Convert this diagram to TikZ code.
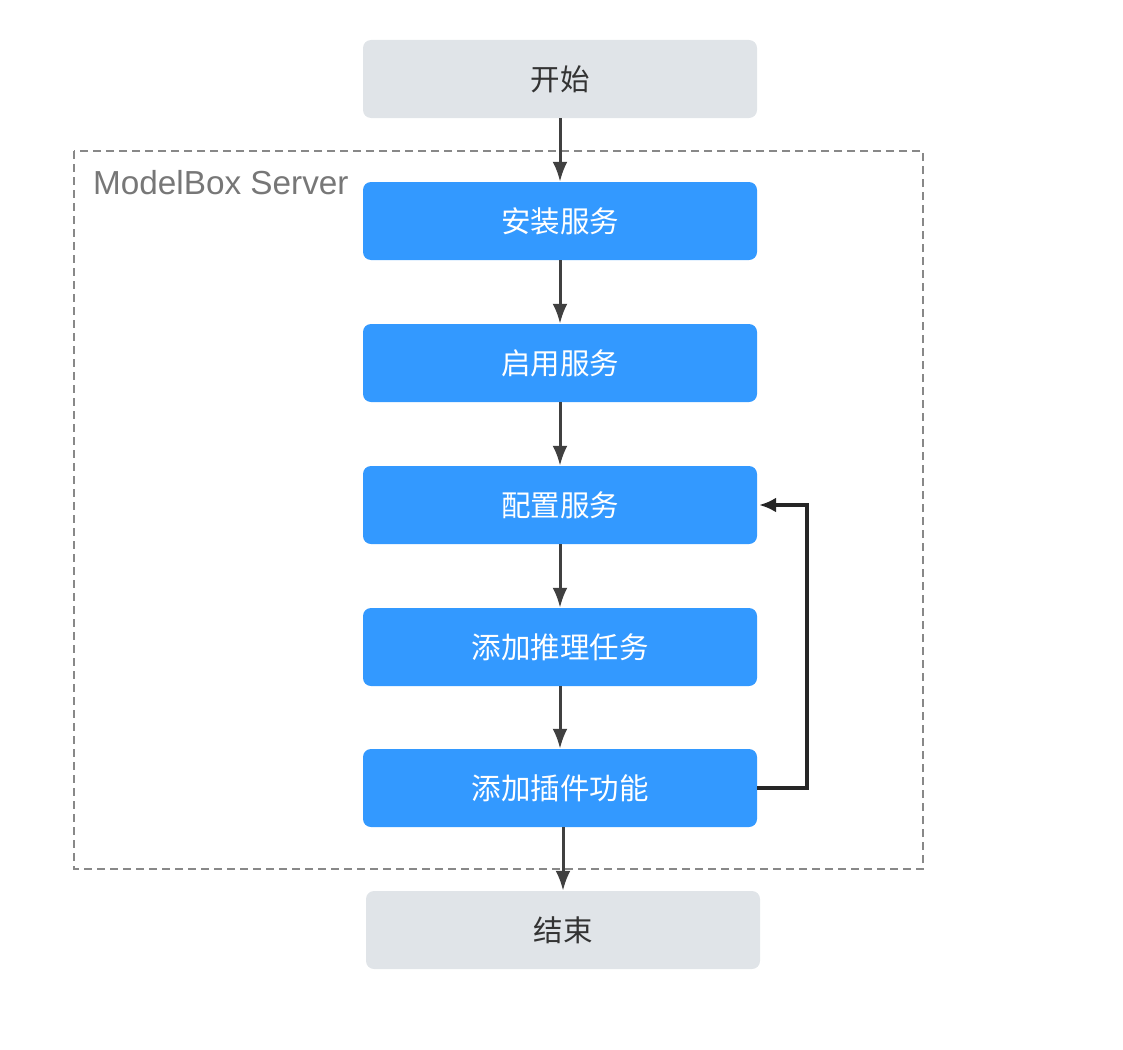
\documentclass[tikz,border=0pt]{standalone}
\usepackage{fontspec}
\setmainfont{Liberation Sans}
\newfontfamily\cjk{Noto Sans CJK SC}
\usetikzlibrary{arrows.meta}
\definecolor{boxblue}{HTML}{3399FF}
\definecolor{boxgray}{HTML}{E0E4E8}
\definecolor{txtdark}{HTML}{333333}
\definecolor{arrowgray}{HTML}{404040}
\definecolor{dashgray}{HTML}{888888}
\definecolor{labelgray}{HTML}{777777}
\tikzset{
  base/.style={rectangle, rounded corners=8pt, minimum width=394pt, minimum height=78pt, inner sep=0pt, font=\cjk\fontsize{29.5}{34}\selectfont},
  stepbox/.style={base, fill=boxblue, text=white},
  termbox/.style={base, fill=boxgray, text=txtdark},
  flow/.style={draw=arrowgray, line width=3pt, -{Latex[length=20pt,width=15pt]}},
  back/.style={draw=black!85, line width=3.2pt, -{Latex[length=17pt,width=15pt]}},
}
\begin{document}
\begin{tikzpicture}[x=1pt,y=-1pt]
\useasboundingbox (0,0) rectangle (1123,1049);
\draw[dashgray, line width=1.8pt, dash pattern=on 8pt off 5pt] (74,151) rectangle (923,869);
\node[anchor=west, text=labelgray, font=\fontsize{33.3}{38}\selectfont, inner sep=0pt] (lbl) at (93,183) {ModelBox Server};
\node[termbox] (start) at (560,79) {开始};
\node[stepbox] (s1) at (560,221) {安装服务};
\node[stepbox] (s2) at (560,363) {启用服务};
\node[stepbox] (s3) at (560,505) {配置服务};
\node[stepbox] (s4) at (560,647) {添加推理任务};
\node[stepbox] (s5) at (560,788) {添加插件功能};
\node[termbox] (end) at (563,930) {结束};
\coordinate (r) at (807,0);
\draw[flow] (start) -- (s1);
\draw[flow] (s1) -- (s2);
\draw[flow] (s2) -- (s3);
\draw[flow] (s3) -- (s4);
\draw[flow] (s4) -- (s5);
\draw[flow] (s5.south -| end.north) -- (end.north);
\draw[back] (s5.east) -- (s5.east -| r) -- (s3.east -| r) -- ([xshift=2pt]s3.east);
\end{tikzpicture}
\end{document}
